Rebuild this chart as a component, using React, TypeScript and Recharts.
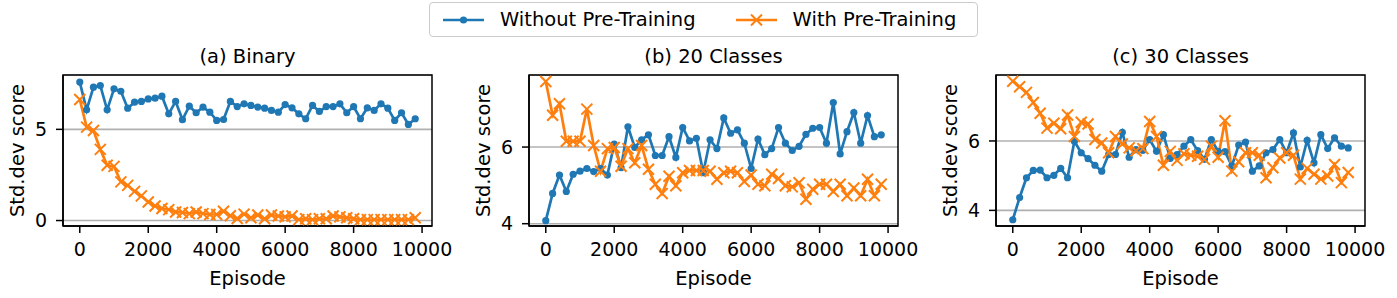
import React from "react";
import {
  LineChart,
  Line,
  XAxis,
  YAxis,
  CartesianGrid,
  ReferenceArea,
} from "recharts";

// episodes (x) shared by all three panels
const episodes = [
  0, 200, 400, 600, 800, 1000, 1200, 1400, 1600, 1800,
  2000, 2200, 2400, 2600, 2800, 3000, 3200, 3400, 3600, 3800,
  4000, 4200, 4400, 4600, 4800, 5000, 5200, 5400, 5600, 5800,
  6000, 6200, 6400, 6600, 6800, 7000, 7200, 7400, 7600, 7800,
  8000, 8200, 8400, 8600, 8800, 9000, 9200, 9400, 9600, 9800,
];

const binaryWithout = [
  7.59, 6.07, 7.31, 7.4, 6.07, 7.22, 7.09, 6.16, 6.49, 6.53,
  6.67, 6.71, 6.82, 5.85, 6.53, 5.53, 6.27, 5.91, 6.22, 5.94,
  5.49, 5.54, 6.53, 6.25, 6.4, 6.31, 6.22, 6.16, 6.04, 5.94,
  6.36, 6.18, 5.85, 5.58, 6.31, 5.98, 6.25, 6.25, 6.4, 5.91,
  6.25, 5.58, 6.18, 6.04, 6.4, 6.16, 5.49, 5.91, 5.27, 5.58,
];
const binaryWith = [
  6.64, 5.12, 4.94, 3.9, 3.03, 2.97, 2.12, 1.93, 1.6, 1.35,
  1.02, 0.8, 0.66, 0.6, 0.47, 0.44, 0.38, 0.47, 0.38, 0.33,
  0.33, 0.51, 0.26, 0.11, 0.35, 0.15, 0.3, 0.1, 0.3, 0.25,
  0.2, 0.25, 0.05, 0.1, 0.05, 0.1, 0.1, 0.25, 0.2, 0.15,
  0.1, 0.05, 0.05, 0.05, 0.05, 0.05, 0.05, 0.05, 0.05, 0.15,
];

const c20Without = [
  4.08, 4.79, 5.27, 4.84, 5.29, 5.37, 5.44, 5.36, 5.44, 5.27,
  6.08, 5.46, 6.53, 5.99, 6.19, 6.32, 5.78, 5.78, 6.27, 5.73,
  6.51, 6.16, 6.23, 5.33, 6.19, 5.96, 6.76, 6.36, 6.45, 6.1,
  5.44, 6.21, 5.8, 5.96, 6.51, 6.1, 5.91, 6.02, 6.33, 6.49,
  6.51, 6.1, 7.16, 5.82, 6.4, 6.9, 6.1, 6.82, 6.27, 6.32,
];
const c20With = [
  7.71, 6.83, 7.13, 6.15, 6.15, 6.15, 6.99, 6.04, 5.37, 5.96,
  5.99, 5.5, 5.96, 5.59, 6.04, 5.42, 5.03, 4.79, 5.24, 4.99,
  5.33, 5.39, 5.39, 5.39, 5.37, 5.16, 5.33, 5.37, 5.33, 5.1,
  5.27, 5.03, 4.99, 5.29, 5.18, 4.99, 4.96, 5.07, 4.64, 4.9,
  5.03, 5.03, 4.84, 5.03, 4.73, 4.93, 4.73, 5.16, 4.73, 5.03,
];

const c30Without = [
  3.73, 4.37, 4.94, 5.15, 5.16, 4.94, 5.01, 5.21, 4.94, 5.99,
  5.66, 5.49, 5.3, 5.13, 5.61, 5.61, 6.25, 5.53, 5.75, 5.73,
  6.04, 5.7, 6.18, 5.5, 5.61, 5.85, 6.04, 5.72, 5.47, 6.04,
  5.7, 5.69, 5.28, 5.88, 5.97, 5.13, 5.28, 5.66, 5.75, 6.04,
  5.66, 6.23, 5.25, 6.02, 5.37, 6.18, 5.78, 6.09, 5.85, 5.8,
];
const c30With = [
  7.72, 7.56, 7.4, 7.11, 6.8, 6.37, 6.51, 6.35, 6.75, 6.13,
  6.54, 6.49, 6.04, 5.94, 5.66, 6.13, 5.91, 5.8, 5.72, 5.78,
  6.56, 6.13, 5.3, 5.7, 5.44, 5.63, 5.59, 5.56, 5.47, 5.85,
  5.53, 6.58, 5.13, 5.4, 5.66, 5.66, 5.59, 4.94, 5.23, 5.51,
  5.66, 5.59, 4.9, 5.21, 5.04, 4.9, 4.99, 5.32, 4.8, 5.09,
];

const xTicks = [0, 2000, 4000, 6000, 8000, 10000];

const BLUE = "#1f77b4";
const ORANGE = "#ff7f0e";
const FONT = "DejaVu Sans";

const XMark = (props: any) => {
  const { cx, cy } = props;
  if (cx == null || cy == null) return null;
  const s = 5.5;
  return (
    <path
      d={`M${cx - s},${cy - s}L${cx + s},${cy + s}M${cx - s},${cy + s}L${cx + s},${cy - s}`}
      stroke={ORANGE}
      strokeWidth={2}
      fill="none"
    />
  );
};

interface PanelProps {
  title: string;
  left: number;
  without: number[];
  withPre: number[];
  yDomain: [number, number];
  yTicks: number[];
}

function Panel({ title, left, without, withPre, yDomain, yTicks }: PanelProps) {
  const data = episodes.map((x, i) => ({ x, a: without[i], b: withPre[i] }));
  const xDomain: [number, number] = [-490, 10290];
  return (
    <div style={{ position: "absolute", left, top: 0 }}>
      <div
        style={{
          position: "absolute",
          left: 63,
          top: 47,
          width: 369,
          textAlign: "center",
          fontSize: 19.5,
          lineHeight: "20px",
          whiteSpace: "nowrap",
        }}
      >
        {title}
      </div>
      <LineChart
        width={464}
        height={298}
        data={data}
        margin={{ top: 75, right: 32, bottom: 10, left: 8 }}
      >
        <CartesianGrid vertical={false} stroke="#b0b0b0" strokeWidth={1.6} />
        <XAxis
          dataKey="x"
          type="number"
          domain={xDomain}
          allowDataOverflow
          ticks={xTicks}
          height={62}
          tickSize={7}
          tickMargin={10}
          axisLine={{ stroke: "#000", strokeWidth: 1.5 }}
          tickLine={{ stroke: "#000", strokeWidth: 1.5 }}
          tick={{ fill: "#000", fontSize: 19 }}
          label={{ value: "Episode", position: "insideBottom", offset: 3, style: { fill: "#000", fontSize: 19.5 } }}
        />
        <YAxis
          type="number"
          domain={yDomain}
          allowDataOverflow
          ticks={yTicks}
          width={55}
          tickSize={7}
          tickMargin={9}
          axisLine={{ stroke: "#000", strokeWidth: 1.5 }}
          tickLine={{ stroke: "#000", strokeWidth: 1.5 }}
          tick={{ fill: "#000", fontSize: 19 }}
          label={{
            value: "Std.dev score",
            angle: -90,
            position: "insideLeft",
            offset: 9.5,
            style: { textAnchor: "middle", fill: "#000", fontSize: 19.5 },
          }}
        />
        <Line
          dataKey="a"
          stroke={BLUE}
          strokeWidth={2.7}
          dot={{ r: 3.6, fill: BLUE, stroke: BLUE, strokeWidth: 0 }}
          isAnimationActive={false}
        />
        <Line
          dataKey="b"
          stroke={ORANGE}
          strokeWidth={2.7}
          dot={<XMark />}
          isAnimationActive={false}
        />
        <ReferenceArea
          x1={xDomain[0]}
          x2={xDomain[1]}
          y1={yDomain[0]}
          y2={yDomain[1]}
          fill="none"
          stroke="#000"
          strokeWidth={1.5}
        />
      </LineChart>
    </div>
  );
}

function LegendBox() {
  return (
    <div
      style={{
        position: "absolute",
        left: 429,
        top: 2,
        width: 549,
        height: 35,
        boxSizing: "border-box",
        border: "1.5px solid #cccccc",
        borderRadius: 4,
        display: "flex",
        alignItems: "center",
        paddingLeft: 13,
        fontSize: 19.5,
        whiteSpace: "nowrap",
      }}
    >
      <svg width={41} height={14} style={{ marginRight: 16 }}>
        <line x1={0} y1={7} x2={41} y2={7} stroke={BLUE} strokeWidth={2.7} />
        <circle cx={20.5} cy={7} r={3.6} fill={BLUE} />
      </svg>
      <span>Without Pre-Training</span>
      <svg width={41} height={14} style={{ marginLeft: 40, marginRight: 16 }}>
        <line x1={0} y1={7} x2={41} y2={7} stroke={ORANGE} strokeWidth={2.7} />
        <path d="M15,1.5L26,12.5M15,12.5L26,1.5" stroke={ORANGE} strokeWidth={2} />
      </svg>
      <span>With Pre-Training</span>
    </div>
  );
}

export default function App() {
  return (
    <div
      style={{
        position: "absolute",
        left: 0,
        top: 0,
        width: 1397,
        height: 298,
        background: "#fff",
        fontFamily: FONT,
        color: "#000",
        overflow: "hidden",
      }}
    >
      <LegendBox />
      <Panel title="(a) Binary" left={0} without={binaryWithout} withPre={binaryWith} yDomain={[-0.3, 7.98]} yTicks={[0, 5]} />
      <Panel title="(b) 20 Classes" left={466} without={c20Without} withPre={c20With} yDomain={[3.94, 7.88]} yTicks={[4, 6]} />
      <Panel title="(c) 30 Classes" left={933} without={c30Without} withPre={c30With} yDomain={[3.55, 7.9]} yTicks={[4, 6]} />
    </div>
  );
}
